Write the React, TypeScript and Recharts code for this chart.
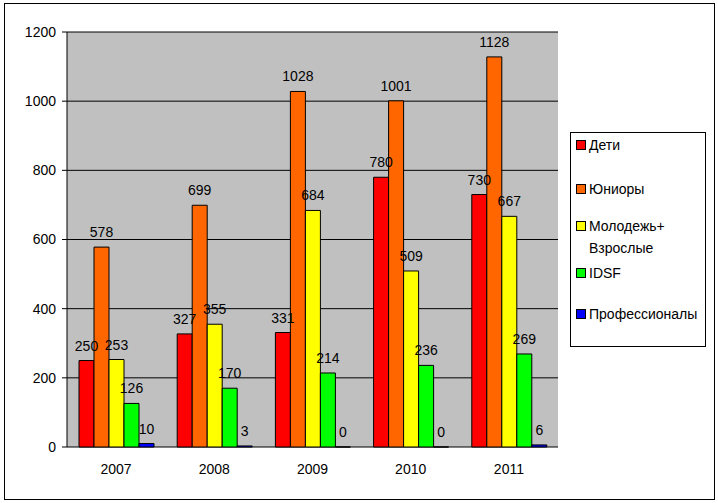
import React from "react";
import {
  Bar,
  BarChart,
  CartesianGrid,
  LabelList,
  XAxis,
  YAxis,
} from "recharts";

const years = ["2007", "2008", "2009", "2010", "2011"];
const kids = [250, 327, 331, 780, 730];
const juniors = [578, 699, 1028, 1001, 1128];
const youthAdults = [253, 355, 684, 509, 667];
const idsf = [126, 170, 214, 236, 269];
const pros = [10, 3, 0, 0, 6];
const yTicks = [0, 200, 400, 600, 800, 1000, 1200];
const edgeTicks = [0, 1, 2, 3, 4, 5];

const SERIES = [
  { key: "kids", name: "Дети", color: "#FF0000", values: kids },
  { key: "juniors", name: "Юниоры", color: "#FF6600", values: juniors },
  { key: "youth", name: "Молодежь+\nВзрослые", color: "#FFFF00", values: youthAdults },
  { key: "idsf", name: "IDSF", color: "#00FF00", values: idsf },
  { key: "pros", name: "Профессионалы", color: "#0000FF", values: pros },
];

const data = years.map((year, i) => {
  const row: Record<string, string | number> = { year };
  SERIES.forEach((s) => {
    row[s.key] = s.values[i];
  });
  return row;
});

const FONT = "'Liberation Sans', Arial, sans-serif";

// gaps between legend rows, matching the uneven Excel spacing
const LEGEND_GAPS = [0, 22, 15, 3, 19];

function LegendBox() {
  return (
    <div
      style={{
        position: "absolute",
        left: 570,
        top: 132,
        width: 134,
        height: 212,
        border: "1px solid #000",
        background: "#fff",
        paddingTop: 1,
      }}
    >
      {SERIES.map((s, i) => (
        <div
          key={s.key}
          style={{
            display: "flex",
            alignItems: "flex-start",
            marginTop: LEGEND_GAPS[i],
            fontSize: 14,
            lineHeight: "22px",
            color: "#000",
          }}
        >
          <span
            style={{
              display: "inline-block",
              width: 8,
              height: 8,
              background: s.color,
              border: "1px solid #000",
              marginLeft: 5,
              marginTop: 6,
              marginRight: 3,
              flexShrink: 0,
            }}
          />
          <span style={{ whiteSpace: "pre" }}>{s.name}</span>
        </div>
      ))}
    </div>
  );
}

// renders the value above the bar, including zero-height bars
function ValueLabel(props: any) {
  const { x, y, width, value } = props;
  if (value === undefined || value === null) return null;
  return (
    <text
      x={Number(x) + Number(width) / 2}
      y={Number(y) - 10}
      textAnchor="middle"
      fill="#000"
      fontSize={14}
      fontFamily={FONT}
    >
      {value}
    </text>
  );
}

export default function App() {
  return (
    <div
      style={{
        position: "absolute",
        left: 0,
        top: 0,
        width: 718,
        height: 503,
        background: "#fff",
        fontFamily: FONT,
      }}
    >
      <div
        style={{
          position: "absolute",
          left: 4,
          top: 3,
          width: 709,
          height: 495,
          border: "1px solid #000",
        }}
      />
      <BarChart
        width={718}
        height={503}
        data={data}
        margin={{ top: 32, right: 160, left: 17, bottom: 26 }}
        barCategoryGap={12}
        barGap={0}
        style={{ position: "absolute", left: 0, top: 0 }}
      >
        <CartesianGrid
          vertical={false}
          stroke="#000"
          strokeWidth={1}
          fill="#C0C0C0"
          fillOpacity={1}
        />
        <XAxis
          xAxisId="edges"
          type="number"
          domain={[0, 5]}
          ticks={edgeTicks}
          allowDataOverflow
          height={0}
          tickSize={5}
          tickFormatter={() => ""}
          axisLine={{ stroke: "#000" }}
          tickLine={{ stroke: "#000" }}
        />
        <XAxis
          xAxisId="cat"
          dataKey="year"
          height={30}
          axisLine={false}
          tickLine={false}
          tickSize={5}
          tickMargin={12}
          tick={{ fill: "#000", fontSize: 14, fontFamily: FONT }}
        />
        <YAxis
          width={50}
          domain={[0, 1200]}
          ticks={yTicks}
          interval={0}
          tickSize={5}
          tickMargin={6}
          axisLine={{ stroke: "#000" }}
          tickLine={{ stroke: "#000" }}
          tick={{ fill: "#000", fontSize: 14, fontFamily: FONT }}
        />
        <YAxis
          yAxisId="right"
          orientation="right"
          width={0}
          domain={[0, 1200]}
          tick={false}
          tickLine={false}
          axisLine={{ stroke: "#000" }}
        />
        {SERIES.map((s) => (
          <Bar
            key={s.key}
            xAxisId="cat"
            dataKey={s.key}
            name={s.name}
            fill={s.color}
            stroke="#000"
            strokeWidth={1}
            minPointSize={0.01}
            isAnimationActive={false}
          >
            <LabelList dataKey={s.key} content={<ValueLabel />} />
          </Bar>
        ))}
      </BarChart>
      <LegendBox />
    </div>
  );
}
